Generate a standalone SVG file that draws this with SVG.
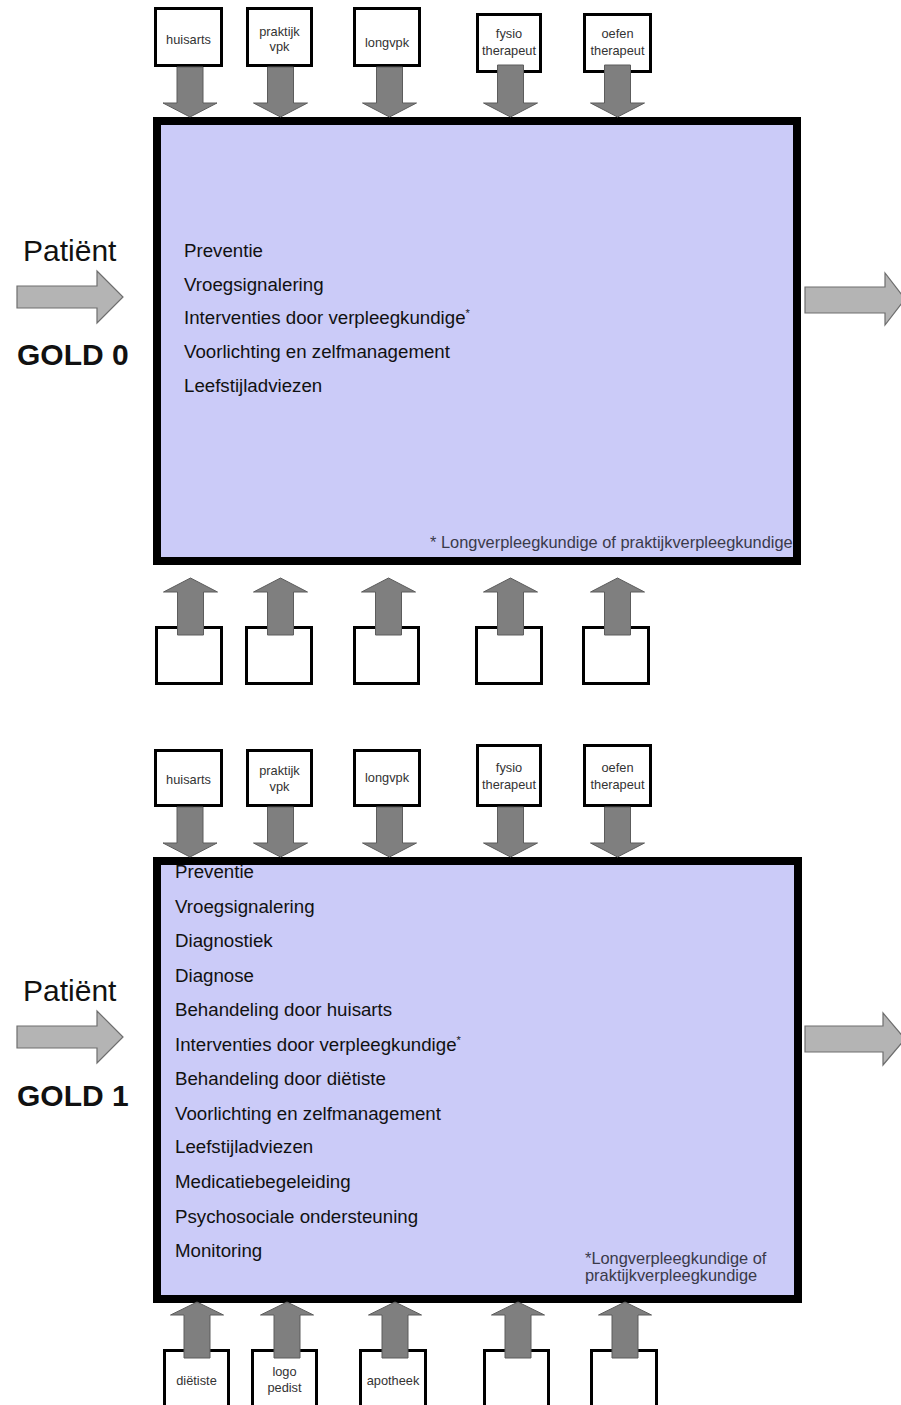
<svg xmlns="http://www.w3.org/2000/svg" width="901" height="1405" viewBox="0 0 901 1405">
  <style>
    .bg { fill: #ffffff; }
    .stage { fill: #cbcbf8; stroke: #000000; stroke-width: 8; }
    .role { fill: #ffffff; stroke: #000000; stroke-width: 3; }
    .flow { fill: #7f7f7f; stroke: #5c5c5c; stroke-width: 1; }
    .patient { fill: #b4b4b4; stroke: #6e6e6e; stroke-width: 1.2; }
    .item { font-family: "Liberation Sans", Arial, sans-serif; font-size: 18.7px; fill: #111111; }
    .sup { font-size: 11px; }
    .note { font-family: "Liberation Sans", Arial, sans-serif; font-size: 16.4px; fill: #3a3a4a; }
    .lbl { font-family: "Liberation Sans", Arial, sans-serif; font-size: 12.8px; fill: #333333; text-anchor: middle; }
    .pat { font-family: "Liberation Sans", Arial, sans-serif; font-size: 30px; fill: #111111; }
    .gold { font-family: "Liberation Sans", Arial, sans-serif; font-size: 30px; font-weight: bold; fill: #111111; }
  </style>

  <rect class="bg" x="0" y="0" width="901" height="1405"/>

  <!-- ===== Stage GOLD 0 ===== -->
  <g id="gold0-stage">
    <rect class="stage" x="157" y="121" width="640" height="440"/>
    <text class="item" x="184" y="257">Preventie</text>
    <text class="item" x="184" y="291">Vroegsignalering</text>
    <text class="item" x="184" y="324">Interventies door verpleegkundige<tspan class="sup" dy="-7">*</tspan></text>
    <text class="item" x="184" y="358">Voorlichting en zelfmanagement</text>
    <text class="item" x="184" y="392">Leefstijladviezen</text>
    <text class="note" x="430" y="548">* Longverpleegkundige of praktijkverpleegkundige</text>
  </g>

  <g id="gold0-patient">
    <text class="pat" x="23" y="261">Patiënt</text>
    <text class="gold" x="17" y="365">GOLD 0</text>
  </g>

  <!-- providers above stage 0 -->
  <g id="g0-huisarts"><rect class="role" x="155.5" y="8.5" width="66" height="57"/><text class="lbl" x="188.5" y="44">huisarts</text></g>
  <g id="g0-praktijkvpk"><rect class="role" x="247.5" y="8.5" width="64" height="57"/><text class="lbl" x="279.5" y="36">praktijk</text><text class="lbl" x="279.5" y="51">vpk</text></g>
  <g id="g0-longvpk"><rect class="role" x="354.5" y="8.5" width="65" height="57"/><text class="lbl" x="387" y="47">longvpk</text></g>
  <g id="g0-fysio"><rect class="role" x="477.5" y="14.5" width="63" height="57"/><text class="lbl" x="509" y="38">fysio</text><text class="lbl" x="509" y="55">therapeut</text></g>
  <g id="g0-oefen"><rect class="role" x="584.5" y="14.5" width="66" height="57"/><text class="lbl" x="617.5" y="38">oefen</text><text class="lbl" x="617.5" y="55">therapeut</text></g>

  <!-- empty provider boxes below stage 0 -->
  <g id="g0-below-1"><rect class="role" x="156.5" y="627.5" width="65" height="56"/></g>
  <g id="g0-below-2"><rect class="role" x="246.5" y="627.5" width="65" height="56"/></g>
  <g id="g0-below-3"><rect class="role" x="354.5" y="627.5" width="64" height="56"/></g>
  <g id="g0-below-4"><rect class="role" x="476.5" y="627.5" width="65" height="56"/></g>
  <g id="g0-below-5"><rect class="role" x="583.5" y="627.5" width="65" height="56"/></g>

  <!-- ===== Stage GOLD 1 ===== -->
  <g id="gold1-stage">
    <rect class="stage" x="157" y="861" width="641" height="438"/>
    <text class="item" x="175" y="878">Preventie</text>
    <text class="item" x="175" y="912.5">Vroegsignalering</text>
    <text class="item" x="175" y="947">Diagnostiek</text>
    <text class="item" x="175" y="981.5">Diagnose</text>
    <text class="item" x="175" y="1016">Behandeling door huisarts</text>
    <text class="item" x="175" y="1050.5">Interventies door verpleegkundige<tspan class="sup" dy="-7">*</tspan></text>
    <text class="item" x="175" y="1085">Behandeling door diëtiste</text>
    <text class="item" x="175" y="1119.5">Voorlichting en zelfmanagement</text>
    <text class="item" x="175" y="1153">Leefstijladviezen</text>
    <text class="item" x="175" y="1188">Medicatiebegeleiding</text>
    <text class="item" x="175" y="1222.5">Psychosociale ondersteuning</text>
    <text class="item" x="175" y="1257">Monitoring</text>
    <text class="note" x="585" y="1264">*Longverpleegkundige of</text>
    <text class="note" x="585" y="1281">praktijkverpleegkundige</text>
  </g>

  <g id="gold1-patient">
    <text class="pat" x="23" y="1001">Patiënt</text>
    <text class="gold" x="17" y="1106">GOLD 1</text>
  </g>

  <!-- providers above stage 1 -->
  <g id="g1-huisarts"><rect class="role" x="155.5" y="750.5" width="66" height="55"/><text class="lbl" x="188.5" y="784">huisarts</text></g>
  <g id="g1-praktijkvpk"><rect class="role" x="247.5" y="750.5" width="64" height="55"/><text class="lbl" x="279.5" y="775">praktijk</text><text class="lbl" x="279.5" y="791">vpk</text></g>
  <g id="g1-longvpk"><rect class="role" x="354.5" y="750.5" width="65" height="55"/><text class="lbl" x="387" y="782">longvpk</text></g>
  <g id="g1-fysio"><rect class="role" x="477.5" y="745.5" width="63" height="60"/><text class="lbl" x="509" y="772">fysio</text><text class="lbl" x="509" y="789">therapeut</text></g>
  <g id="g1-oefen"><rect class="role" x="584.5" y="745.5" width="66" height="60"/><text class="lbl" x="617.5" y="772">oefen</text><text class="lbl" x="617.5" y="789">therapeut</text></g>

  <!-- providers below stage 1 -->
  <g id="g1-dietiste"><rect class="role" x="164.5" y="1350.5" width="64" height="70"/><text class="lbl" x="196.5" y="1385">diëtiste</text></g>
  <g id="g1-logopedist"><rect class="role" x="252.5" y="1350.5" width="64" height="70"/><text class="lbl" x="284.5" y="1376">logo</text><text class="lbl" x="284.5" y="1392">pedist</text></g>
  <g id="g1-apotheek"><rect class="role" x="360.5" y="1350.5" width="65" height="70"/><text class="lbl" x="393" y="1385">apotheek</text></g>
  <g id="g1-below-4"><rect class="role" x="484.5" y="1350.5" width="64" height="70"/></g>
  <g id="g1-below-5"><rect class="role" x="591.5" y="1350.5" width="65" height="70"/></g>

  <!-- ===== Connectors ===== -->
  <g id="connectors">
    <!-- stage 0: inflow / outflow -->
    <polygon class="patient" points="17,286 97,286 97,271 123,297 97,323 97,308 17,308"/>
    <polygon class="patient" points="805,287 885,287 885,273 905,299 885,325 885,313 805,313"/>
    <!-- stage 0: from providers above -->
    <polygon class="flow" points="177,67 203,67 203,103 217,103 190,117 163,103 177,103"/>
    <polygon class="flow" points="267.5,67 293.5,67 293.5,103 307.5,103 280.5,117 253.5,103 267.5,103"/>
    <polygon class="flow" points="376.5,67 402.5,67 402.5,103 416.5,103 389.5,117 362.5,103 376.5,103"/>
    <polygon class="flow" points="497.5,65 523.5,65 523.5,103 537.5,103 510.5,117 483.5,103 497.5,103"/>
    <polygon class="flow" points="604.5,65 630.5,65 630.5,103 644.5,103 617.5,117 590.5,103 604.5,103"/>
    <!-- stage 0: from boxes below -->
    <polygon class="flow" points="177.5,635 203.5,635 203.5,592 217.5,592 190.5,578 163.5,592 177.5,592"/>
    <polygon class="flow" points="267.5,635 293.5,635 293.5,592 307.5,592 280.5,578 253.5,592 267.5,592"/>
    <polygon class="flow" points="375.5,635 401.5,635 401.5,592 415.5,592 388.5,578 361.5,592 375.5,592"/>
    <polygon class="flow" points="497.5,635 523.5,635 523.5,592 537.5,592 510.5,578 483.5,592 497.5,592"/>
    <polygon class="flow" points="604.5,635 630.5,635 630.5,592 644.5,592 617.5,578 590.5,592 604.5,592"/>

    <!-- stage 1: inflow / outflow -->
    <polygon class="patient" points="17,1026 97,1026 97,1011 123,1037 97,1063 97,1048 17,1048"/>
    <polygon class="patient" points="805,1026 883,1026 883,1013 905,1039 883,1065 883,1052 805,1052"/>
    <!-- stage 1: from providers above -->
    <polygon class="flow" points="177,807 203,807 203,843 217,843 190,857 163,843 177,843"/>
    <polygon class="flow" points="267.5,807 293.5,807 293.5,843 307.5,843 280.5,857 253.5,843 267.5,843"/>
    <polygon class="flow" points="376.5,807 402.5,807 402.5,843 416.5,843 389.5,857 362.5,843 376.5,843"/>
    <polygon class="flow" points="497.5,807 523.5,807 523.5,843 537.5,843 510.5,857 483.5,843 497.5,843"/>
    <polygon class="flow" points="604.5,807 630.5,807 630.5,843 644.5,843 617.5,857 590.5,843 604.5,843"/>
    <!-- stage 1: from providers below -->
    <polygon class="flow" points="184,1358 210,1358 210,1315 223.5,1315 197,1302 170.5,1315 184,1315"/>
    <polygon class="flow" points="274,1358 300,1358 300,1315 313.5,1315 287,1302 260.5,1315 274,1315"/>
    <polygon class="flow" points="382,1358 408,1358 408,1315 421.5,1315 395,1302 368.5,1315 382,1315"/>
    <polygon class="flow" points="505,1358 531,1358 531,1315 544.5,1315 518,1302 491.5,1315 505,1315"/>
    <polygon class="flow" points="612,1358 638,1358 638,1315 651.5,1315 625,1302 598.5,1315 612,1315"/>
  </g>
</svg>
